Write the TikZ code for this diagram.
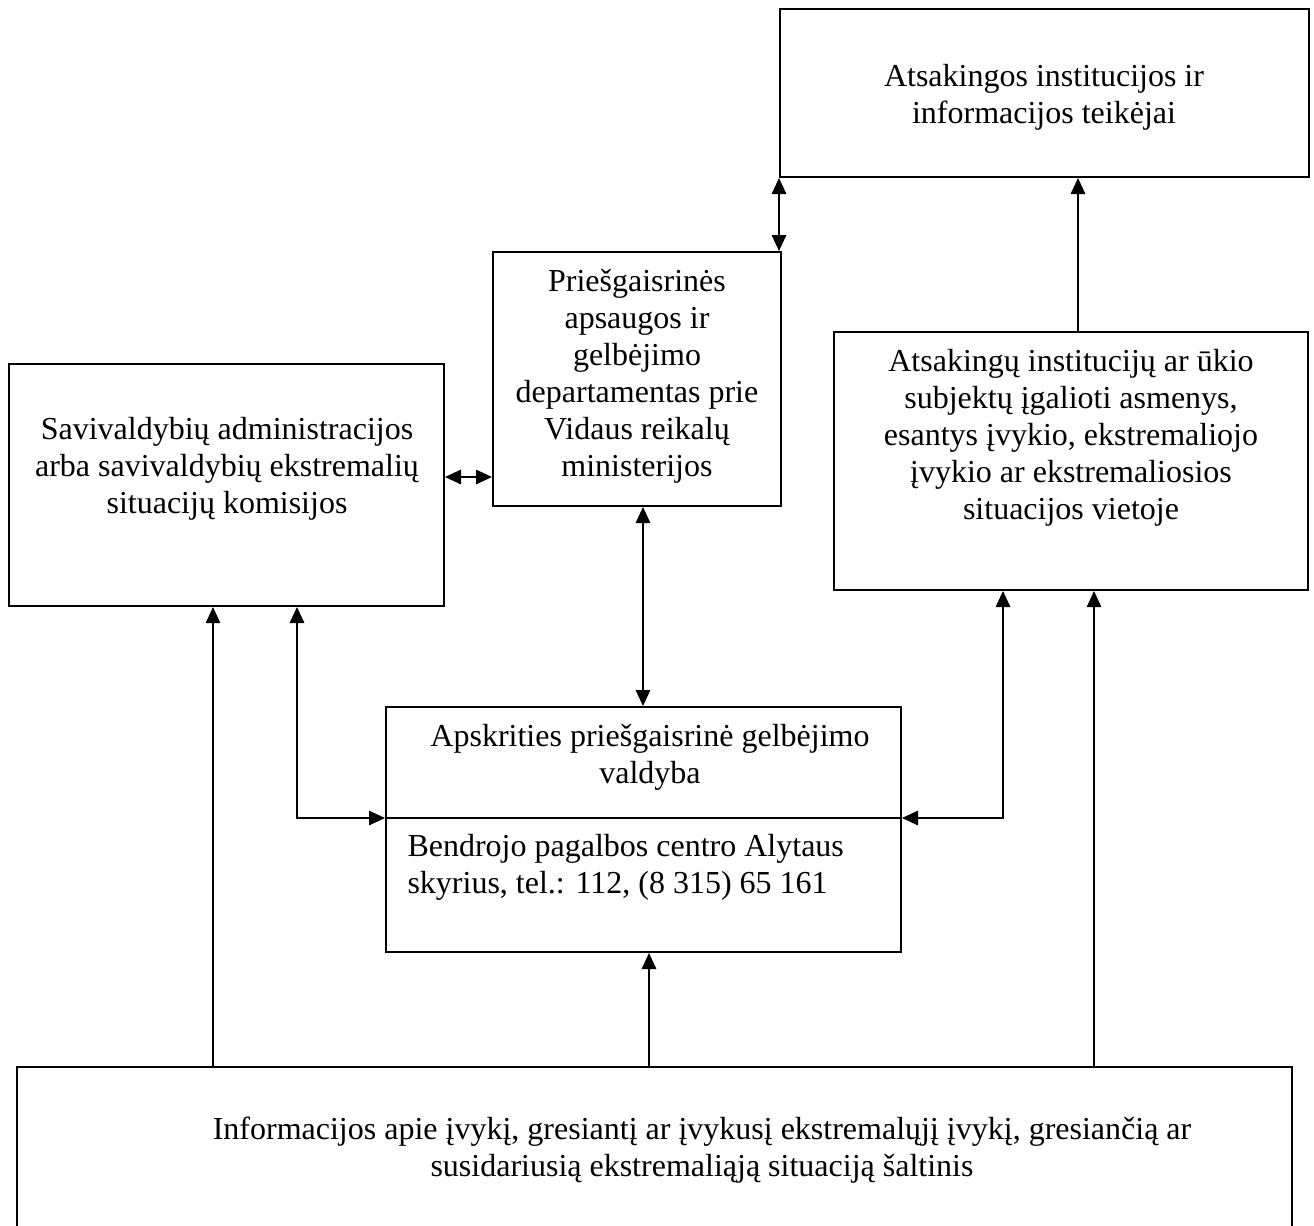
\documentclass[tikz,border=0pt]{standalone}
\usepackage{fontspec}
\setmainfont{Liberation Serif}
\usetikzlibrary{arrows.meta,fit}
\begin{document}
\begin{tikzpicture}[x=0.375pt,y=-0.375pt,
  boxnode/.style={draw, line width=0.75pt, inner sep=0pt},
  txt/.style={align=center, inner sep=0pt, font=\fontsize{12pt}{13.9pt}\selectfont},
  conn/.style={line width=0.7pt},
  tip/.tip={Triangle[length=6pt,width=5.4pt]},
  dbl/.style={conn, tip-tip},
  arr/.style={conn, -tip},
  thinarr/.style={line width=0.4pt, -tip}
]
\path[fill=white, use as bounding box] (0,0) rectangle (1314,1225);

% boxes
\node[boxnode, fit={(780,9) (1309,177)}] (T) {};
\node[boxnode, fit={(493,252) (781,506)}] (P) {};
\node[boxnode, fit={(9,364) (444,606)}] (L) {};
\node[boxnode, fit={(834,332) (1308,590)}] (R) {};
\node[boxnode, fit={(386,707) (901,952)}] (A) {};
\node[inner sep=0pt, fit={(18,1068) (1291,1228)}] (B) {};
\draw[line width=0.75pt] (B.south west) -- (B.north west) -- (B.north east) -- (B.south east);

% helper coordinates
\coordinate (ydiv) at (0,818);
\coordinate (yLP) at (0,477);
\coordinate (xRT) at (1078,0);
\coordinate (xPA) at (643,0);
\coordinate (xLA) at (297,0);
\coordinate (xRA) at (1003,0);
\coordinate (xBL) at (213,0);
\coordinate (xBA) at (649,0);
\coordinate (xBR) at (1094,0);

% divider in A
\draw[line width=0.75pt] (A.west |- ydiv) -- (A.east |- ydiv);

% texts
\node[txt] (Tt) at (1044,97) {Atsakingos institucijos ir\\informacijos teikėjai};
\node[txt] (Pt) at (637,376) {Priešgaisrinės\\apsaugos ir\\gelbėjimo\\departamentas prie\\Vidaus reikalų\\ministerijos};
\node[txt] (Lt) at (227,469) {Savivaldybių administracijos\\arba savivaldybių ekstremalių\\situacijų komisijos};
\node[txt] (Rt) at (1071,438) {Atsakingų institucijų ar ūkio\\subjektų įgalioti asmenys,\\esantys įvykio, ekstremaliojo\\įvykio ar ekstremaliosios\\situacijos vietoje};
\node[txt] (At) at (650,757) {Apskrities priešgaisrinė gelbėjimo\\valdyba};
\node[txt, align=left, anchor=west] (Ab) at (407,867) {Bendrojo pagalbos centro Alytaus\\skyrius, tel.: 112, (8 315) 65 161};
\node[txt] (Bt) at (702,1150) {Informacijos apie įvykį, gresiantį ar įvykusį ekstremalųjį įvykį, gresiančią ar\\susidariusią ekstremaliąją situaciją šaltinis};

% connectors
\draw[dbl] (L.east |- yLP) -- (P.west |- yLP);
\draw[dbl] (T.south west) -- (T.south west |- P.north);
\draw[arr] (R.north -| xRT) -- (T.south -| xRT);
\draw[dbl] (P.south -| xPA) -- (A.north -| xPA);
\draw[dbl] (L.south -| xLA) |- (A.west |- ydiv);
\draw[dbl] (R.south -| xRA) |- (A.east |- ydiv);
\draw[thinarr] (B.north -| xBL) -- (L.south -| xBL);
\draw[arr] (B.north -| xBA) -- (A.south -| xBA);
\draw[thinarr] (B.north -| xBR) -- (R.south -| xBR);
\end{tikzpicture}
\end{document}
